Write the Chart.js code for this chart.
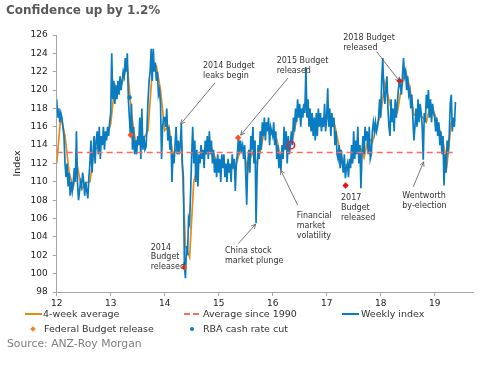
<!DOCTYPE html>
<html>
<head>
<meta charset="utf-8">
<script src="https://cdn.jsdelivr.net/npm/chart.js@4/dist/chart.umd.min.js"></script>
<style>
  body { margin: 0; background: #fff; font-family: "DejaVu Sans", Verdana, sans-serif; }
  #box { position: relative; width: 503px; height: 366px; overflow: hidden; }
  #chart { position: absolute; left: 0; top: 0; }
  .txt { position: absolute; white-space: nowrap; line-height: 12px; height: 12px; }
  .title { left: 6px; top: 3px; font-size: 12px; font-weight: bold; color: #595959; line-height: 14px; height: 14px; }
  .leg { font-size: 9.5px; color: #333; }
  .src { left: 7px; top: 337px; font-size: 10.8px; color: #808080; line-height: 14px; height: 14px; }
  .sw { position: absolute; }
</style>
</head>
<body>
<div id="box">
  <canvas id="chart" width="503" height="366"></canvas>
  <div class="txt title">Confidence up by 1.2%</div>

  <div class="sw" style="left:25px;top:313px;width:17px;height:2px;background:#e98a15"></div>
  <div class="txt leg" style="left:43px;top:308px">4-week average</div>
  <div class="sw" style="left:184px;top:313px;width:6px;height:2px;background:#ff6b5b"></div>
  <div class="sw" style="left:193px;top:313px;width:6px;height:2px;background:#ff6b5b"></div>
  <div class="txt leg" style="left:203px;top:308px">Average since 1990</div>
  <div class="sw" style="left:342px;top:313px;width:17px;height:2px;background:#0a7cc1"></div>
  <div class="txt leg" style="left:361px;top:308px">Weekly index</div>

  <div class="sw" style="left:31px;top:327px;width:4px;height:4px;background:#f5821f;transform:rotate(45deg)"></div>
  <div class="txt leg" style="left:44px;top:323px">Federal Budget release</div>
  <div class="sw" style="left:190px;top:327px;width:4px;height:4px;border-radius:50%;background:#0a7cc1"></div>
  <div class="txt leg" style="left:203px;top:323px">RBA cash rate cut</div>

  <div class="txt src">Source: ANZ-Roy Morgan</div>
</div>

<script>
// ---- data ----
const years = [2012, 2013, 2014, 2015, 2016, 2017, 2018, 2019];

// weekly index, one value per week
const weekly2012 = [119,117,118,116.5,117.5,117,116,115,112,110.5,112,109.5,111,108.5,110,109,110,111.5,110,115.5,110,108,109,110,109.5,111,110,108.5,110,109,108.2,110.5,112,114.5,111,113,115,112,114.5,115.5,113,116,112.5,115,114,116,113.5,115.5,114.5,116,115,116.5];
const weekly2013 = [117.5,124,119,121,118.5,120.5,119,121,119.5,121.5,120,121,122,121.5,123.5,122,124,119,117,115,118.5,113.5,116,113,114.5,113,115,114,117,112.5,118,113.5,115,113.5,113.8,116,119,121,122,124.5,121,124.5,122,123,121,122,119.5,120,118.5,112.5,116,117];
const weekly2014 = [117,116,118,114.5,116,113.5,115,110,113,112,114,116,113,114.5,113,114,116.3,112,110.5,100.8,99.5,103,102,106,105.5,109,113,116,112,114.5,110,113.5,109.5,113,112,114,112.5,113.5,111.5,114.5,113,115,112.5,115.5,113,114.5,112,113.5,111,112.5,110.5,113];
const weekly2015 = [111,112.5,110,113,111.5,113,110.5,112,110,112.5,111,112,110,113,111.5,112.5,109,112,113,114.8,113,114.5,113.5,114,112.5,114,111,107.5,112,113.5,111,115,113.5,116,112,114.5,105.5,111,114,112.5,115.5,113.5,116.5,115,117,114.5,116.5,115.5,117,114,116,115.5];
const weekly2016 = [115,116.5,114,115.5,112.5,114,111.5,113,111.3,114,112.5,116,113.5,115.5,112,115,113,114,115.5,114,117,115.5,118,116.5,119,117,118.5,116,118,117,118.5,117.5,122.5,117,119,116,118,115.5,117.5,115,117,114.5,117.5,115,118,116,117.5,115.5,117,116,118.5,115.5];
const weekly2017 = [117,120.2,116,118,115,117.5,116,117,114,115.5,113,112.5,114,111.5,113.5,112,111,113,110.4,111.5,112,110.5,112.5,111.5,114,112,115.5,112.5,114.5,113,116,112,114,109.3,113,115,113,116,114.5,115.5,113,116,112.5,113,115.5,116.5,115.5,116.5,115.5,116,117,119];
const weekly2018 = [117,121,123.5,120,118.5,120,121.5,118,116,115,119,116.5,118,115.5,119,117,118.5,120,121,120.5,119.5,121.5,123.5,121.5,122,120,121.5,119.5,120,118,119.5,117,114.5,116,118,116,119,116.5,118.5,117.5,116,112.4,117.5,116.5,119.5,118,120,117,119,116.5,118.5,117.5];
const weekly2019 = [117,115.5,117,115,116.5,114,115.5,113,115,109.6,113,111,114.5,113,115,118.5,119.5,115.5,117,116,118.7];

// 4-week average, read every fourth week
const avg2012 = [112,117.2,115,111,109.4,111.7,109.2,109.9,110,113.4,113.8,114.4,114.9];
const avg2013 = [116.3,120.6,120,121.1,122.7,117.4,114.3,114.8,114.8,115.6,122.1,122.6,120];
const avg2014 = [115.6,116.1,112.9,113.8,114.5,103,101.8,110,111.9,112.9,113.1,114,112.8];
const avg2015 = [111.8,111.8,111.4,111.4,111.5,113.2,113.6,111.1,113.3,112,113.3,115.5,115.9];
const avg2016 = [115.1,114.6,112.5,114,113.9,115.1,117.3,117.4,118.9,117.5,116.3,116.3,116.5];
const avg2017 = [116.8,117.3,116.1,113.8,112,111.7,112.1,113.6,113.8,112.6,114.8,114.3,116];
const avg2018 = [117.3,120.8,118.9,117.1,117.5,120.3,122.1,120.3,117.3,117.3,117.1,116.5,118.5];
const avg2019 = [117.4,116,114.4,112,116.5,116.8];

const longRunAverage = 113.2;

const budgetDates  = [13.37, 14.36, 15.36, 17.35, 18.35];
const budgetValues = [115.1, 100.7, 114.8, 109.6, 121.0];

const rbaDates  = [13.35, 13.6, 16.34];
const rbaValues = [119.2, 114.0, 114.0];

const yTicks = [98, 126, 2];   // min, max, step
const xTicks = [12, 19.71, 1];

// ---- annotations (text + arrows, in data units) ----
const noteLines = [
  ["2014 Budget", "leaks begin"],
  ["2015 Budget", "released"],
  ["2018 Budget", "released"],
  ["2014", "Budget", "released"],
  ["China stock", "market plunge"],
  ["Financial", "market", "volatility"],
  ["2017", "Budget", "released"],
  ["Wentworth", "by-election"]
];
const notePos = [
  [14.71, 122.62], [16.074, 123.2], [17.307, 125.64], [13.741, 102.85],
  [15.117, 102.48], [16.444, 106.26], [17.265, 108.26], [18.40, 108.44]
];
const arrows = [
  [14.93, 120.77, 14.295, 116.29],
  [16.283, 121.31, 15.407, 115.09],
  [17.926, 124.18, 18.357, 120.91],
  [15.363, 103.28, 15.685, 105.39],
  [16.463, 107.46, 16.148, 111.28],
  [18.604, 109.46, 18.796, 112.18]
];

// ---- build series ----
const weeklyByYear = [weekly2012, weekly2013, weekly2014, weekly2015, weekly2016, weekly2017, weekly2018, weekly2019];
const avgByYear = [avg2012, avg2013, avg2014, avg2015, avg2016, avg2017, avg2018, avg2019];

const weeklyPoints = [];
weeklyByYear.forEach((vals, yi) => {
  vals.forEach((v, w) => weeklyPoints.push({ x: years[yi] - 2000 + w / 52, y: v }));
});
const avgPoints = [];
avgByYear.forEach((vals, yi) => {
  vals.forEach((v, k) => avgPoints.push({ x: years[yi] - 2000 + (k * 4) / 52, y: v }));
});
const firstX = weeklyPoints[0].x;
const lastX = weeklyPoints[weeklyPoints.length - 1].x;
const longRunPoints = [{ x: firstX, y: longRunAverage }, { x: lastX, y: longRunAverage }];
const budgetPoints = budgetDates.map((d, i) => ({ x: d, y: budgetValues[i] }));
const rbaPoints = rbaDates.map((d, i) => ({ x: d, y: rbaValues[i] }));

const FONT = "'DejaVu Sans', Verdana, sans-serif";

const notesPlugin = {
  id: 'notes',
  afterDatasetsDraw(chart) {
    const { ctx, scales: { x, y } } = chart;
    ctx.save();
    ctx.font = "8px " + FONT;
    ctx.fillStyle = '#333';
    ctx.textBaseline = 'middle';
    ctx.textAlign = 'left';
    noteLines.forEach((lines, i) => {
      const px = x.getPixelForValue(notePos[i][0]);
      const py = y.getPixelForValue(notePos[i][1]);
      lines.forEach((t, j) => ctx.fillText(t, px, py + j * 9.8));
    });

    ctx.strokeStyle = '#555';
    ctx.lineWidth = 0.8;
    arrows.forEach(a => {
      const x1 = x.getPixelForValue(a[0]), y1 = y.getPixelForValue(a[1]);
      const x2 = x.getPixelForValue(a[2]), y2 = y.getPixelForValue(a[3]);
      const ang = Math.atan2(y2 - y1, x2 - x1);
      ctx.beginPath();
      ctx.moveTo(x1, y1);
      ctx.lineTo(x2, y2);
      ctx.moveTo(x2 - 5 * Math.cos(ang - 0.45), y2 - 5 * Math.sin(ang - 0.45));
      ctx.lineTo(x2, y2);
      ctx.lineTo(x2 - 5 * Math.cos(ang + 0.45), y2 - 5 * Math.sin(ang + 0.45));
      ctx.stroke();
    });
    ctx.restore();
  }
};

new Chart(document.getElementById('chart'), {
  type: 'line',
  data: {
    datasets: [
      {
        label: 'Federal Budget release', data: budgetPoints, showLine: false, order: 0,
        pointStyle: 'rectRot', pointRadius: 3.2, borderWidth: 0,
        pointBackgroundColor: ['#f5512a', '#f5512a', '#f5512a', '#ee1111', '#ee1111'],
        pointBorderColor: ['#f5512a', '#f5512a', '#f5512a', '#ee1111', '#ee1111']
      },
      {
        label: 'RBA cash rate cut', data: rbaPoints, showLine: false, order: 0,
        pointStyle: 'circle',
        pointRadius: [2.2, 2.2, 3.6],
        pointBorderWidth: [0, 0, 1.6],
        pointBackgroundColor: ['#0a7cc1', '#0a7cc1', 'rgba(0,0,0,0)'],
        pointBorderColor: ['#0a7cc1', '#0a7cc1', '#e8202a']
      },
      {
        label: 'Average since 1990', data: longRunPoints, order: 1,
        borderColor: '#ff6b5b', borderWidth: 1.6, borderDash: [6, 4], pointRadius: 0, tension: 0
      },
      {
        label: 'Weekly index', data: weeklyPoints, order: 2,
        borderColor: '#0a7cc1', borderWidth: 1.7, pointRadius: 0, tension: 0
      },
      {
        label: '4-week average', data: avgPoints, order: 3,
        borderColor: '#e98a15', borderWidth: 1.7, pointRadius: 0, tension: 0
      }
    ]
  },
  options: {
    responsive: false,
    animation: false,
    layout: { padding: { top: 35, right: 30, left: 0, bottom: 0 } },
    plugins: { legend: { display: false }, tooltip: { enabled: false } },
    scales: {
      x: {
        type: 'linear', min: xTicks[0], max: xTicks[1],
        ticks: { stepSize: xTicks[2], includeBounds: false, padding: 2, maxRotation: 0,
                 color: '#222', font: { family: FONT, size: 9 } },
        grid: { display: true, drawOnChartArea: false, tickLength: 4, color: '#a6a6a6' },
        border: { display: true, color: '#a6a6a6' },
        afterFit(s) { s.height = 74; }
      },
      y: {
        min: yTicks[0], max: yTicks[1],
        ticks: { stepSize: yTicks[2], padding: 5, color: '#222', font: { family: FONT, size: 9 } },
        grid: { display: true, drawOnChartArea: false, tickLength: 4, color: '#a6a6a6' },
        border: { display: true, color: '#a6a6a6' },
        title: { display: true, text: 'Index', color: '#222', padding: { top: 12, bottom: 0 },
                 font: { family: FONT, size: 9.5 } },
        afterFit(s) { s.width = 56.7; }
      }
    }
  },
  plugins: [notesPlugin]
});
</script>
</body>
</html>
